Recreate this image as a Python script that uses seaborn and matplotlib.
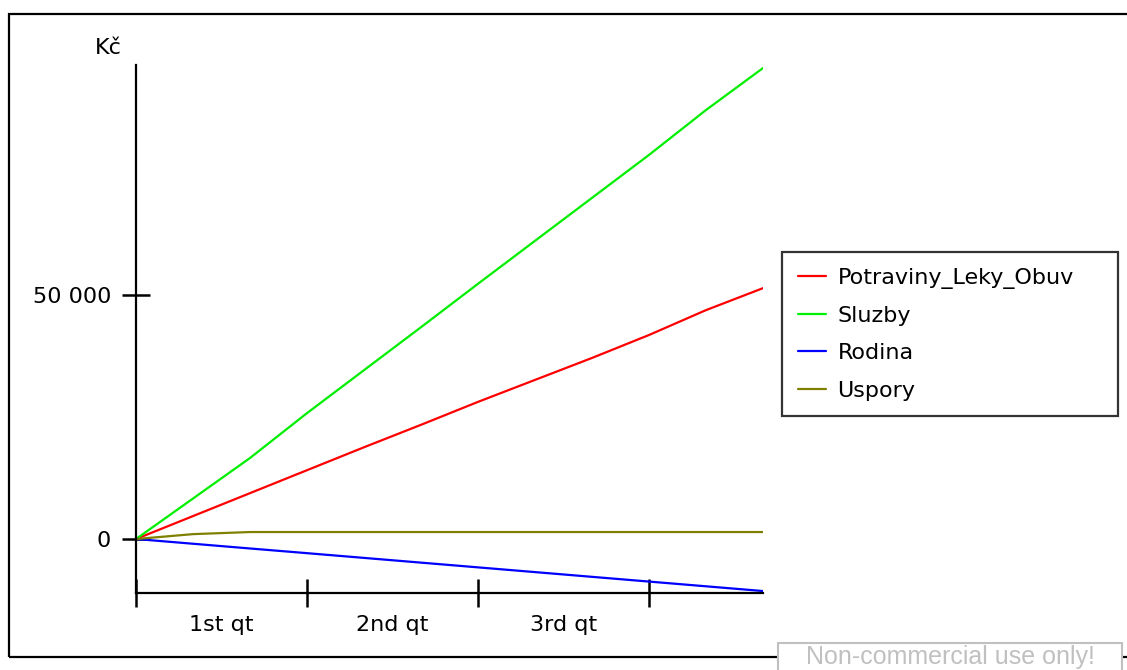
import pandas as pd
import matplotlib.pyplot as plt
import seaborn as sns
from matplotlib.patches import Rectangle

# Monthly cumulative values (Kč), month 0..11
months = list(range(12))
potraviny = [0, 4700, 9400, 14100, 18800, 23400, 28100, 32600, 37100, 41800, 46900, 51400]
sluzby = [0, 8300, 16600, 25800, 34600, 43400, 52300, 61100, 69900, 78700, 87900, 96500]
rodina = [0, -970, -1940, -2900, -3870, -4840, -5810, -6780, -7750, -8720, -9690, -10660]
uspory = [0, 1000, 1430, 1430, 1430, 1430, 1430, 1430, 1430, 1430, 1430, 1430]

series_names = ["Potraviny_Leky_Obuv", "Sluzby", "Rodina", "Uspory"]
series_colors = ["#ff0000", "#00ee00", "#0000ff", "#808000"]
quarter_labels = ["1st qt", "2nd qt", "3rd qt"]

df = pd.concat([
    pd.DataFrame({"month": months, "value": vals, "series": name})
    for name, vals in zip(series_names, [potraviny, sluzby, rodina, uspory])
])

sns.set_style("white")
plt.rcParams["font.family"] = ["DejaVu Sans"]
plt.rcParams["text.color"] = "black"

fig = plt.figure(figsize=(11.27, 6.7), dpi=100)
ax = fig.add_axes([0.1207, 0.1149, 0.5563, 0.7881])

sns.lineplot(data=df, x="month", y="value", hue="series", hue_order=series_names,
             palette=series_colors, linewidth=1.6, ax=ax, legend=False)

ax.set_xlim(0, 11)
ax.set_ylim(-11066, 97131)
for side in ["top", "right"]:
    ax.spines[side].set_visible(False)
for side in ["left", "bottom"]:
    ax.spines[side].set_color("black")
    ax.spines[side].set_linewidth(1.6)

ax.set_yticks([0, 50000])
ax.set_yticklabels(["0", "50 000"])
ax.set_xticks([0, 3, 6, 9])
ax.set_xticklabels([])
ax.set_xticks([1.5, 4.5, 7.5], minor=True)
ax.set_xticklabels(quarter_labels, minor=True)
ax.tick_params(axis="both", which="major", direction="inout", length=20, width=1.8,
               color="black", labelcolor="black", labelsize=16, pad=8,
               bottom=True, left=True)
ax.tick_params(axis="x", which="minor", length=0, labelsize=16, pad=16,
               labelcolor="black", bottom=True)
ax.set_xlabel("")
ax.set_ylabel("")

fig.text(108 / 1127, 1 - 48 / 670, "Kč", fontsize=16, ha="center", va="center")

handles = [plt.Line2D([], [], color=c, linewidth=1.6) for c in series_colors]
leg = fig.legend(handles, series_names, loc="upper left",
                 bbox_to_anchor=(782 / 1127, 1 - 252 / 670, 336 / 1127, 0.0),
                 mode="expand", fontsize=16, frameon=True, fancybox=False,
                 handlelength=1.3, handletextpad=0.5, labelspacing=0.78,
                 borderpad=0.7, borderaxespad=0)
leg.get_frame().set_edgecolor("black")
leg.get_frame().set_linewidth(1.6)
for t in leg.get_texts():
    t.set_color("black")

# outer frame
fig.patches.append(Rectangle((9 / 1127, 13 / 670), 1.2, 1 - 27 / 670, transform=fig.transFigure,
                             fill=False, edgecolor="black", linewidth=1.6))

# watermark
fig.patches.append(Rectangle((778 / 1127, -0.05), 344 / 1127, 0.05 + 27 / 670,
                             transform=fig.transFigure, facecolor="white",
                             edgecolor="#c0c0c0", linewidth=1.5))
fig.text(950 / 1127, 1 - 664 / 670, "Non-commercial use only!", fontsize=18,
         family="Liberation Sans", color="#c0c0c0", ha="center", va="baseline")

fig.savefig("out.png", dpi=100)
